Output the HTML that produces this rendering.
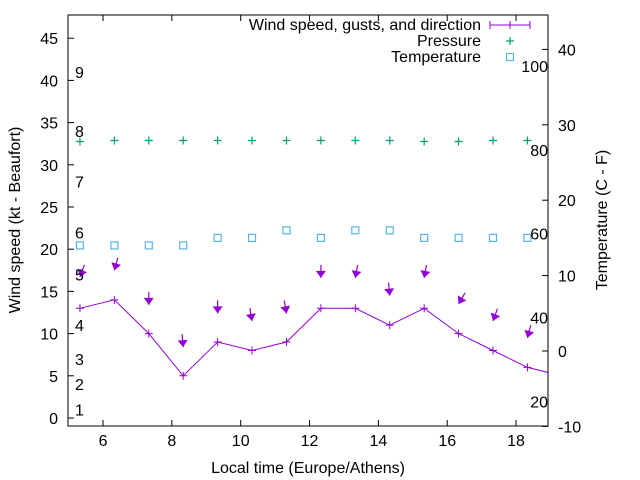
<!DOCTYPE html>
<html><head><meta charset="utf-8"><style>
html,body{margin:0;padding:0;background:#fff;}
svg{display:block;font-family:"Liberation Sans",sans-serif;}
</style></head><body>
<svg id="chart" width="640" height="480" viewBox="0 0 640 480" xmlns="http://www.w3.org/2000/svg">
<g id="marks"></g>
<g id="axes"></g>
</svg>
<script>
const times=[5.33,6.33,7.33,8.33,9.33,10.33,11.33,12.33,13.33,14.33,15.33,16.33,17.33,18.33,19.33];
const windKt=[13,14,10,5,9,8,9,13,13,11,13,10,8,6,5];
const gustKt=[16.7,17.5,13.4,8.4,12.4,11.5,12.4,16.6,16.6,14.5,16.6,13.5,11.5,9.5];
const windDir=[20,15,0,355,0,350,350,0,10,355,10,30,20,15];
const pressure=[1012.8,1013,1013,1013,1013,1013,1013,1013,1013,1013,1012.8,1012.8,1013,1013];
const tempC=[14,14,14,14,15,15,16,15,16,16,15,15,15,15];
const xTicks=[6,8,10,12,14,16,18];
const yTicks=[0,5,10,15,20,25,30,35,40,45];
const y2Ticks=[-10,0,10,20,30,40];
const beaufortKt=[1,4,7,11,17,22,28,34,41];
const beaufortLabels=["1","2","3","4","5","6","7","8","9"];
const fahrenheit=[20,40,60,80,100];

const L=68,R=548,T=15,B=426;
const FS=16;
const X=t=>68.6+(t-5)*34.42;
const Y=v=>418-v*8.44;
const Y2=c=>351-c*7.54;
const YP=p=>140.5-(p-1013)*5;
const NS="http://www.w3.org/2000/svg";
const marks=document.getElementById('marks'),axes=document.getElementById('axes');
function mk(tag,attrs,parent){const e=document.createElementNS(NS,tag);for(const k in attrs)e.setAttribute(k,attrs[k]);parent.appendChild(e);return e;}
function txt(s,attrs,parent){const e=mk('text',attrs,parent);e.textContent=s;return e;}

const defs=mk('defs',{},marks);const cp=mk('clipPath',{id:'clip'},defs);mk('rect',{x:L,y:T,width:R-L,height:B-T},cp);
const g=mk('g',{'clip-path':'url(#clip)'},marks);

let d='';times.forEach((t,i)=>{d+=(i?'L':'M')+X(t).toFixed(1)+','+Y(windKt[i]).toFixed(1);});
const wl=mk('path',{d:d,fill:'none',stroke:'#9400d3','stroke-width':1},g);


times.forEach((t,i)=>{const x=X(t),y=Y(windKt[i]);
 const p=mk('path',{d:`M${x-4},${y}h8M${x},${y-4}v8`,stroke:'#9400d3','stroke-width':1},g);
 
 
});
gustKt.forEach((gk,i)=>{const x=X(times[i]),y=Y(gk);const a=windDir[i]*Math.PI/180;const len=13;
 const dx=Math.sin(a)*len,dy=-Math.cos(a)*len;
 const ar=mk('g',{},g);
 
 
 mk('line',{x1:x+dx,y1:y+dy,x2:x,y2:y,stroke:'#9400d3','stroke-width':1.2},ar);
 const ux=-dx/len,uy=-dy/len,px=-uy,py=ux;
 mk('path',{d:`M${x},${y}L${x-ux*7+px*5},${y-uy*7+py*5}L${x-ux*7-px*5},${y-uy*7-py*5}Z`,fill:'#9400d3'},ar);
});
pressure.forEach((p,i)=>{const x=X(times[i]),y=YP(p);
 const e=mk('path',{d:`M${x-4},${y}h8M${x},${y-4}v8`,stroke:'#009e73','stroke-width':1.2},g);
 
 
});
tempC.forEach((c,i)=>{const x=X(times[i]),y=Y2(c);
 const e=mk('rect',{x:x-3.5,y:y-3.5,width:7,height:7,fill:'none',stroke:'#56b4e9','stroke-width':1.2},g);
 
 
});
beaufortKt.forEach((k,i)=>{const e=txt(beaufortLabels[i],{x:75,y:Y(k)+6,'font-size':FS,fill:'#000'},marks);
 
 
});
fahrenheit.forEach(f=>{const e=txt(String(f),{x:548,y:Y2((f-32)*5/9)+6,'font-size':FS,'text-anchor':'end',fill:'#000'},marks);
 
 
});

const fr=mk('rect',{x:L,y:T,width:R-L,height:B-T,fill:'none',stroke:'#000','stroke-width':1},axes);


xTicks.forEach(t=>{const x=X(t);mk('path',{d:`M${x},${B}v-6M${x},${T}v6`,stroke:'#000'},axes);
 const e=txt(String(t),{x:x,y:B+20,'font-size':FS,'text-anchor':'middle'},axes);
 
 
});
yTicks.forEach(v=>{const y=Y(v);mk('path',{d:`M${L},${y}h6`,stroke:'#000'},axes);
 const e=txt(String(v),{x:L-10,y:y+6,'font-size':FS,'text-anchor':'end'},axes);
 
 
});
y2Ticks.forEach(v=>{const y=Y2(v);mk('path',{d:`M${R},${y}h-6`,stroke:'#000'},axes);
 const e=txt(String(v),{x:R+10,y:y+6,'font-size':FS},axes);
 
 
});
let e;
e=txt('Local time (Europe/Athens)',{x:308,y:473,'font-size':FS,'text-anchor':'middle'},axes);

e=txt('Wind speed (kt - Beaufort)',{x:0,y:0,'font-size':FS,'text-anchor':'middle',transform:'translate(20,220) rotate(-90)'},axes);

e=txt('Temperature (C - F)',{x:0,y:0,'font-size':FS,'text-anchor':'middle',transform:'translate(607,220) rotate(-90)'},axes);


const lg=mk('g',{},axes);


e=txt('Wind speed, gusts, and direction',{x:481,y:30,'font-size':FS,'text-anchor':'end'},lg);

mk('path',{d:'M490,25h40M490,21v8M530,21v8M510,21v8',stroke:'#9400d3'},lg);
e=txt('Pressure',{x:481,y:46,'font-size':FS,'text-anchor':'end'},lg);

mk('path',{d:'M506,41h8M510,37v8',stroke:'#009e73','stroke-width':1.2},lg);
e=txt('Temperature',{x:481,y:62,'font-size':FS,'text-anchor':'end'},lg);

mk('rect',{x:506.5,y:53.5,width:7,height:7,fill:'none',stroke:'#56b4e9','stroke-width':1.2},lg);
</script>
</body></html>
